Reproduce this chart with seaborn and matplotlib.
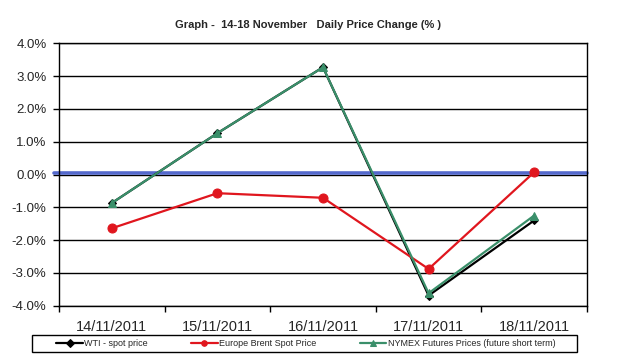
#!/usr/bin/env python3
import matplotlib
matplotlib.use("Agg")
import matplotlib.pyplot as plt
from matplotlib.patches import Rectangle
import pandas as pd
import seaborn as sns

# values (daily % change)
dates = ["14/11/2011", "15/11/2011", "16/11/2011", "17/11/2011", "18/11/2011"]
wti = [-0.87, 1.26, 3.27, -3.69, -1.40]
brent = [-1.64, -0.57, -0.71, -2.88, 0.07]
nymex = [-0.87, 1.26, 3.27, -3.62, -1.25]
series_names = ["WTI - spot price", "Europe Brent Spot Price",
                "NYMEX Futures Prices (future short term)"]
yticks = [-4, -3, -2, -1, 0, 1, 2, 3, 4]

df = pd.concat([
    pd.DataFrame({"date": range(len(dates)), "change": vals, "series": name})
    for name, vals in zip(series_names, [wti, brent, nymex])
])

sns.set_style("white")
plt.rcParams["font.family"] = ["Liberation Sans", "DejaVu Sans"]

fig = plt.figure(figsize=(6.3, 3.58), dpi=100)
ax = fig.add_axes([59 / 630, 1 - 305.7 / 358, 528 / 630, 262.4 / 358])

palette = {series_names[0]: "#000000", series_names[1]: "#E0161E",
           series_names[2]: "#3A8F6A"}
markers = {series_names[0]: "D", series_names[1]: "o", series_names[2]: "^"}
sizes = {series_names[0]: 4.5, series_names[1]: 6.5, series_names[2]: 6}

# horizontal grid
for y in yticks:
    ax.axhline(y, color="black", lw=1, zorder=1)
# thick blue zero line
ax.axhline(0.06, xmin=-0.01, xmax=1, color="#5469CC", lw=2.6, zorder=2,
           clip_on=False)

for name in series_names:
    sub = df[df["series"] == name]
    sns.lineplot(data=sub, x="date", y="change", color=palette[name],
                 marker=markers[name], markersize=sizes[name],
                 markeredgecolor=palette[name], lw=1.6, ax=ax, zorder=3,
                 label=name, legend=False)

ax.set_xlim(-0.5, len(dates) - 0.5)
ax.set_ylim(-4, 4)
ax.set_yticks(yticks)
ax.set_yticklabels([f"{v:.1f}%" for v in yticks], fontsize=9.5)
ax.set_xticks(range(len(dates)))
ax.set_xticklabels(dates, fontsize=10.5)
ax.set_xticks([i - 0.5 for i in range(len(dates) + 1)], minor=True)
ax.tick_params(axis="x", which="major", length=0, pad=10)
ax.tick_params(axis="x", which="minor", length=4, width=1, color="black",
               direction="out", bottom=True)
ax.tick_params(axis="y", length=4, width=1, color="black", direction="out",
               left=True, pad=5)
ax.set_xlabel("")
ax.set_ylabel("")
for s in ax.spines.values():
    s.set_color("black")
    s.set_linewidth(1)

fig.text(308 / 630, 1 - 25 / 358,
         "Graph -  14-18 November   Daily Price Change (% )",
         ha="center", va="center", fontsize=8, fontweight="bold")

# legend box drawn as a plain rectangle, entries centred inside it
fig.patches.append(Rectangle((32 / 630, 1 - 352 / 358), 545 / 630, 17 / 358,
                             transform=fig.transFigure, fill=False,
                             edgecolor="black", lw=1))
handles, labels = ax.get_legend_handles_labels()
leg = fig.legend(handles, labels, loc="center",
                 bbox_to_anchor=(306 / 630, 1 - 343.5 / 358),
                 ncol=3, fontsize=6.5, frameon=False,
                 handlelength=2.9, handletextpad=0.2, columnspacing=4.8,
                 borderpad=0, borderaxespad=0)
for line in leg.get_lines():
    line.set_markersize(4)

fig.savefig("out.png", dpi=100)
